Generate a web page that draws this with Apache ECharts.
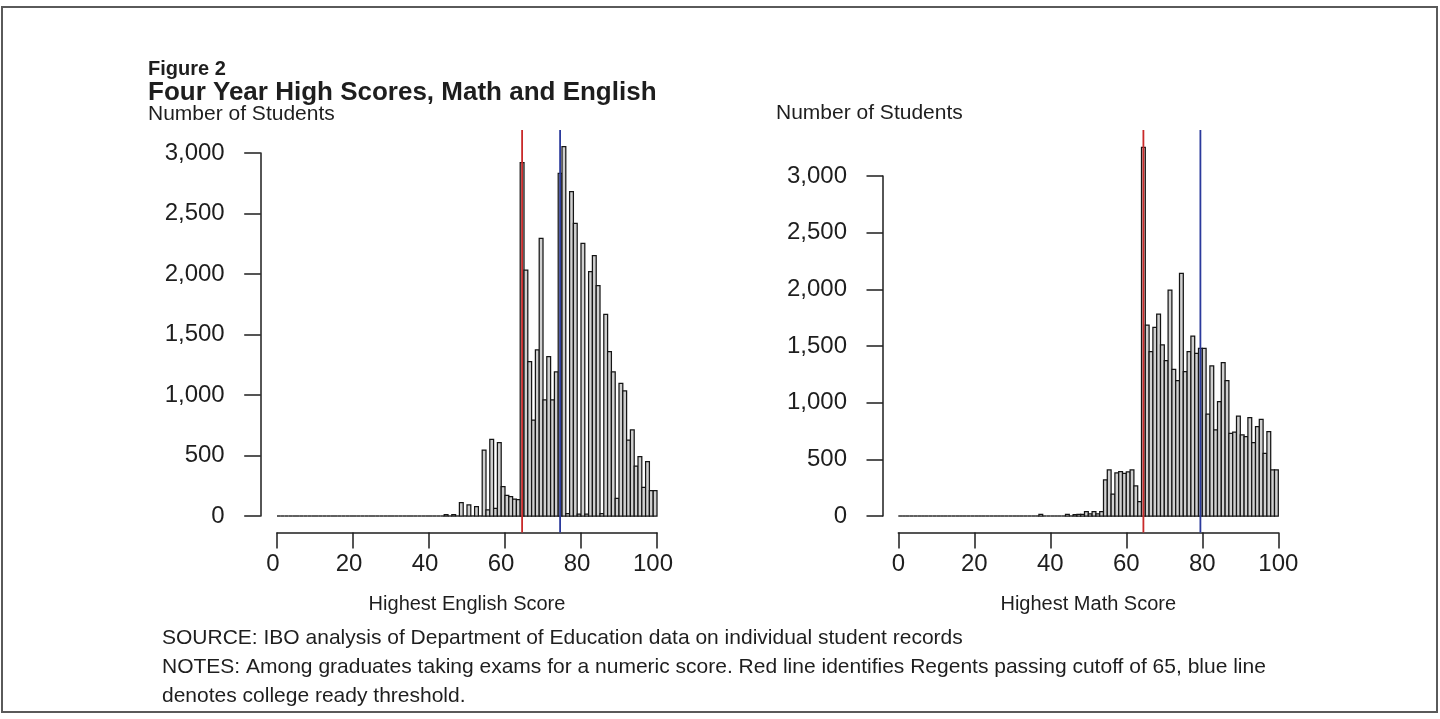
<!DOCTYPE html>
<html>
<head>
<meta charset="utf-8">
<script src="https://cdn.jsdelivr.net/npm/echarts@6/dist/echarts.min.js"></script>
<style>
  html, body { margin: 0; padding: 0; background: #ffffff; }
  #chart { width: 1440px; height: 719px; }
</style>
</head>
<body>
<div id="chart"></div>
<script>
// ---------------- DATA ----------------
// Number of students for each highest score 1..100 (one bar per score)
const englishCounts = [
  0,0,0,0,0,0,0,0,0,0,            // 1–10
  0,0,0,0,0,0,0,0,0,0,            // 11–20
  0,0,0,0,0,0,0,0,0,0,            // 21–30
  0,0,0,0,0,0,0,0,0,0,            // 31–40
  0,0,0,0,12,0,12,0,110,0,        // 41–50
  91,0,77,0,545,50,634,63,606,242, // 51–60
  170,160,140,135,2920,2033,1275,793,1372,2295, // 61–70
  959,1317,959,1192,2832,3052,20,2680,2419,15,  // 71–80
  2254,15,2019,2151,1903,20,1667,1358,1192,146, // 81–90
  1096,1035,628,711,413,490,237,449,209,209     // 91–100
];
const mathCounts = [
  0,0,0,0,0,0,0,0,0,0,            // 1–10
  0,0,0,0,0,0,0,0,0,0,            // 11–20
  0,0,0,0,0,0,0,0,0,0,            // 21–30
  0,0,0,0,0,0,0,15,0,0,           // 31–40
  0,0,0,0,15,0,12,15,15,38,       // 41–50
  18,38,18,38,318,406,194,380,391,376,          // 51–60
  390,406,265,126,3253,1685,1450,1665,1782,1509, // 61–70
  1370,1994,1294,1194,2141,1273,1450,1588,1435,1480, // 71–80
  1480,900,1324,759,1009,1353,1194,730,740,882,  // 81–90
  715,700,868,647,788,853,553,744,406,406        // 91–100
];
const scores = englishCounts.map((_, i) => i + 1);   // score labels 1..100

const passingCutoff = 65;          // red line (Regents passing)
const englishCollegeReady = 75;    // blue line, English
const mathCollegeReady = 80;       // blue line, Math

const xTickInterval = 20;          // 0,20,...,100
const yTickInterval = 500;         // 0,500,...,3000
const yMax = 3000;

// ---------------- STYLE ----------------
const FONT = "'Liberation Sans', Arial, Helvetica, sans-serif";
const INK = '#1e1e1e';
const RED = '#c92a2a';
const BLUE = '#2b3a9c';
const LINE_TOP = 130;   // px where the threshold lines start
const X_OFFSET = 16.5;  // gap between zero line and x axis

const chart = echarts.init(document.getElementById('chart'), null, { renderer: 'canvas' });

function barData(counts) {
  return scores.map((s, i) => [s, counts[i]]);
}

function renderBar(params, api) {
  const score = api.value(0);
  const count = api.value(1);
  const p0 = api.coord([score - 1, count]);
  const p1 = api.coord([score, 0]);
  if (count === 0) {
    return {
      type: 'line',
      shape: { x1: p0[0], y1: p1[1], x2: p1[0], y2: p1[1] },
      style: { stroke: INK, lineWidth: 1.4 }
    };
  }
  return {
    type: 'rect',
    shape: { x: p0[0], y: p0[1], width: p1[0] - p0[0], height: p1[1] - p0[1] },
    style: { fill: '#d0d0d0', stroke: '#151515', lineWidth: 1.25 }
  };
}

function renderCutoff(params, api) {
  // line drawn through the middle of the bar for that score
  const x = api.coord([api.value(0) - 0.5, 0])[0];
  const cs = params.coordSys;
  return {
    type: 'line',
    shape: { x1: x, y1: LINE_TOP, x2: x, y2: cs.y + cs.height + X_OFFSET },
    style: { stroke: api.visual('color'), lineWidth: 1.8 }
  };
}

function xAxisDef(gridIndex, name, labelPad) {
  return {
    type: 'value', gridIndex, min: 0, max: 100, interval: xTickInterval,
    offset: X_OFFSET,
    axisLine: { show: true, onZero: false, lineStyle: { color: INK, width: 1.5 } },
    axisTick: { show: true, length: 16, lineStyle: { color: INK, width: 1.5 } },
    splitLine: { show: false },
    axisLabel: { margin: 20, fontFamily: FONT, fontSize: 24, lineHeight: 24, color: INK, padding: labelPad },
    name, nameLocation: 'middle', nameGap: 62,
    nameTextStyle: { fontFamily: FONT, fontSize: 20, color: INK, lineHeight: 20 }
  };
}
function yAxisDef(gridIndex, offset) {
  return {
    type: 'value', gridIndex, min: 0, max: yMax, interval: yTickInterval,
    offset,
    axisLine: { show: true, onZero: false, lineStyle: { color: INK, width: 1.5 } },
    axisTick: { show: true, length: 16.5, lineStyle: { color: INK, width: 1.5 } },
    splitLine: { show: false },
    axisLabel: {
      margin: 36, fontFamily: FONT, fontSize: 24, color: INK,
      formatter: v => v.toLocaleString('en-US')
    }
  };
}

function textTitle(text, left, top, size, bold) {
  return {
    text, left, top, padding: 0,
    textStyle: { fontFamily: FONT, fontSize: size, fontWeight: bold ? 'bold' : 'normal', color: INK, lineHeight: size }
  };
}

const option = {
  backgroundColor: '#ffffff',
  animation: false,
  title: [
    textTitle('Figure 2', 148, 59, 20, true),
    textTitle('Four Year High Scores, Math and English', 148, 80, 26, true),
    textTitle('Number of Students', 148, 104, 21, false),
    textTitle('Number of Students', 776, 103, 21, false),
    textTitle('SOURCE: IBO analysis of Department of Education data on individual student records', 162, 628, 21, false),
    textTitle('NOTES: Among graduates taking exams for a numeric score. Red line identifies Regents passing cutoff of 65, blue line', 162, 657, 21, false),
    textTitle('denotes college ready threshold.', 162, 686, 21, false)
  ],
  graphic: [{
    type: 'rect', silent: true, z: -1,
    shape: { x: 2, y: 7, width: 1435, height: 705 },
    style: { fill: 'none', stroke: '#5a5a5a', lineWidth: 2 }
  }],
  grid: [
    { left: 277, top: 153, width: 380, height: 363 },
    { left: 898.3, top: 176, width: 380, height: 340 }
  ],
  xAxis: [
    xAxisDef(0, 'Highest English Score', [0, 8, 0, 0]),
    xAxisDef(1, 'Highest Math Score', 0)
  ],
  yAxis: [
    yAxisDef(0, 16.3),
    yAxisDef(1, 15.3)
  ],
  series: [
    {
      name: 'English', type: 'custom', xAxisIndex: 0, yAxisIndex: 0,
      clip: false, z: 2, renderItem: renderBar,
      encode: { x: 0, y: 1 }, data: barData(englishCounts)
    },
    {
      name: 'Math', type: 'custom', xAxisIndex: 1, yAxisIndex: 1,
      clip: false, z: 2, renderItem: renderBar,
      encode: { x: 0, y: 1 }, data: barData(mathCounts)
    },
    {
      name: 'English thresholds', type: 'custom', xAxisIndex: 0, yAxisIndex: 0,
      clip: false, z: 5, renderItem: renderCutoff, encode: { x: 0, y: 1 },
      data: [
        { value: [passingCutoff, 0], itemStyle: { color: RED } },
        { value: [englishCollegeReady, 0], itemStyle: { color: BLUE } }
      ]
    },
    {
      name: 'Math thresholds', type: 'custom', xAxisIndex: 1, yAxisIndex: 1,
      clip: false, z: 5, renderItem: renderCutoff, encode: { x: 0, y: 1 },
      data: [
        { value: [passingCutoff, 0], itemStyle: { color: RED } },
        { value: [mathCollegeReady, 0], itemStyle: { color: BLUE } }
      ]
    }
  ]
};
chart.setOption(option);
</script>
</body>
</html>
